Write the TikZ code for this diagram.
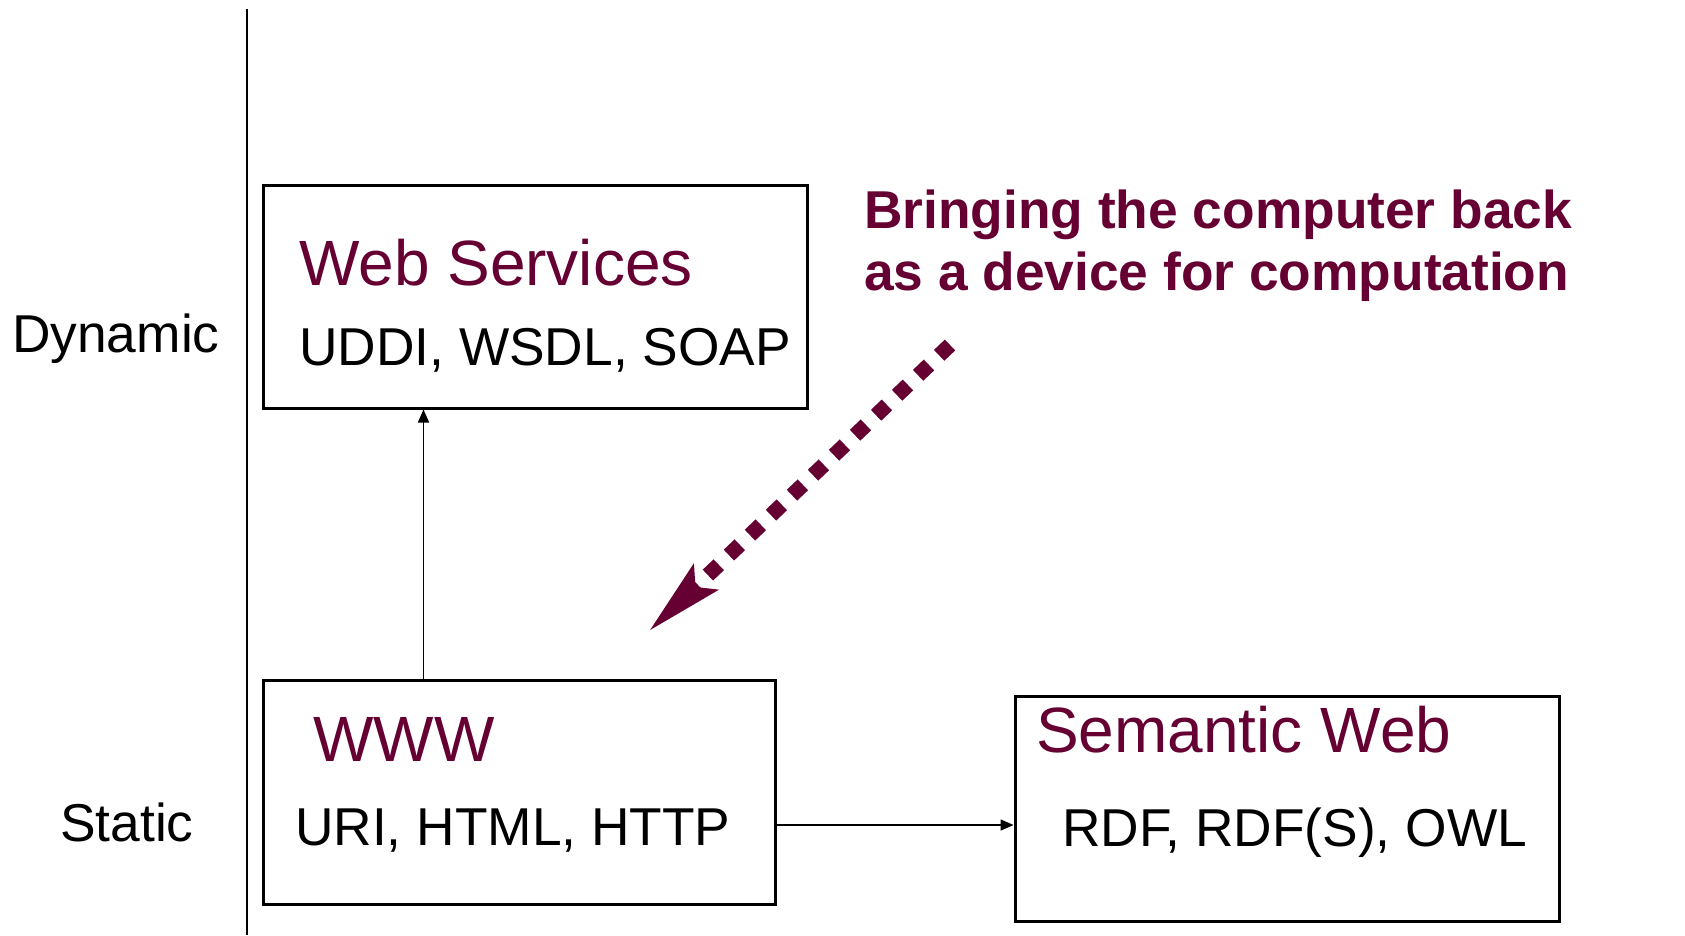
\documentclass[tikz,border=0pt]{standalone}
\usepackage{fontspec}
\setmainfont{Liberation Sans}
\usetikzlibrary{arrows.meta}
\definecolor{mar}{RGB}{102,0,51}
\begin{document}
\begin{tikzpicture}[x=1pt,y=-1pt,
  box/.style={draw=black,line width=3pt,inner sep=0pt,fill=none},
  ttl/.style={anchor=base west,inner sep=0pt,text=mar,font=\fontsize{64}{70}\selectfont},
  bod/.style={anchor=base west,inner sep=0pt,text=black,font=\fontsize{53.3}{60}\selectfont},
  note/.style={anchor=base west,inner sep=0pt,text=mar,font=\bfseries\fontsize{53.3}{60}\selectfont},
  conn/.style={draw=black,line width=1.6pt,-{Triangle[length=13pt,width=11pt]}},
  dotarrow/.style={draw=mar,line width=15pt,dash pattern=on 15pt off 14pt,line cap=butt,
     -{Stealth[length=77pt,width=33pt,inset=12pt]}}]
\useasboundingbox (0,0) rectangle (1685,935);
% axis line
\coordinate (vt) at (247,9);
\coordinate (vb) at (247,935);
\draw[line width=2pt] (vt) -- (vb);
% labels
\node[bod] (dyn) at (12,352) {Dynamic};
\node[bod] (sta) at (60,841) {Static};
% boxes
\node[box,minimum width=544pt,minimum height=223pt] (ws) at (535,296.5) {};
\node[box,minimum width=512pt,minimum height=224pt] (ww) at (519,792) {};
\node[box,minimum width=544pt,minimum height=225pt] (sw) at (1287,808.5) {};
% texts in boxes
\node[ttl] (wst) at (299,285) {Web Services};
\node[bod] (wsb) at (299,365) {UDDI, WSDL, SOAP};
\node[ttl] (wwt) at (313,761) {WWW};
\node[bod] (wwb) at (295,845) {URI, HTML, HTTP};
\node[ttl] (swt) at (1036,752) {Semantic Web};
\node[bod] (swb) at (1062,846) {RDF, RDF(S), OWL};
% note
\node[note] (n1) at (864,228) {Bringing the computer back};
\node[note] (n2) at (864,290) {as a device for computation};
% connectors
\draw[conn] ([xshift=162pt]ww.north west) -- ([xshift=162pt]ws.south west);
\path ([yshift=-33pt]ww.east) coordinate (ra);
\draw[conn] (ra) -- (ra -| sw.west);
% dotted arrow
\coordinate (ds) at (950,345);
\coordinate (dt) at (648,632);
\draw[dotarrow] (ds) -- (dt);
\end{tikzpicture}
\end{document}
